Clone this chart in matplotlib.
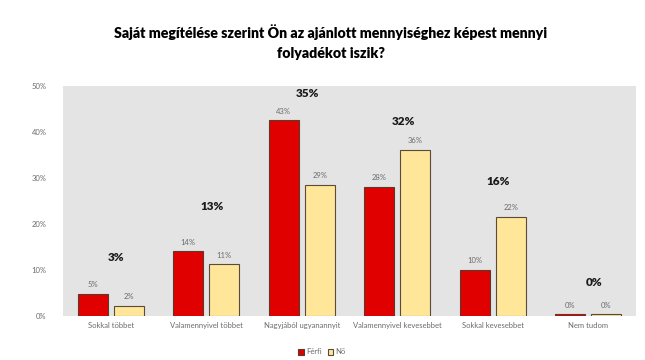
import matplotlib.pyplot as plt
import numpy as np

plt.rcParams['font.family'] = ['Lato', 'DejaVu Sans']

categories = ['Sokkal többet', 'Valamennyivel többet', 'Nagyjából ugyanannyit',
              'Valamennyivel kevesebbet', 'Sokkal kevesebbet', 'Nem tudom']
ferfi = [4.8, 14.1, 42.6, 28.1, 10.0, 0.4]
no = [2.2, 11.3, 28.5, 36.1, 21.6, 0.4]
ferfi_labels = ['5%', '14%', '43%', '28%', '10%', '0%']
no_labels = ['2%', '11%', '29%', '36%', '22%', '0%']
total_labels = ['3%', '13%', '35%', '32%', '16%', '0%']
# vertical position of the bold total labels (in axis units)
total_y = [12.8, 23.9, 48.3, 42.3, 29.3, 7.2]
yticks = [0, 10, 20, 30, 40, 50]

fig = plt.figure(figsize=(6.45, 3.6), dpi=100)
ax = fig.add_axes([63/645, 1-316/360, 573/645, 230/360])
ax.set_facecolor('#e4e4e4')

x = np.arange(len(categories))
w = 0.314
gap = 0.066
ax.bar(x - (w+gap)/2, ferfi, w, color='#e00000', edgecolor='#5a3a2a', linewidth=0.8, label='Férfi')
ax.bar(x + (w+gap)/2, no, w, color='#ffe699', edgecolor='#5a4a3a', linewidth=0.8, label='Nő')

for i in range(len(categories)):
    ax.text(x[i] - (w+gap)/2, ferfi[i] + 1.2, ferfi_labels[i], ha='center', va='bottom',
            fontsize=5.5, color='#6b6b6b')
    ax.text(x[i] + (w+gap)/2, no[i] + 1.2, no_labels[i], ha='center', va='bottom',
            fontsize=5.5, color='#6b6b6b')
    ax.text(x[i] + 0.06, total_y[i], total_labels[i], ha='center', va='center',
            fontsize=8.5, fontweight='heavy', color='#1a1a1a')

ax.set_xlim(-0.5, len(categories) - 0.5)
ax.set_ylim(0, 50)
ax.set_yticks(yticks)
ax.set_yticklabels([f'{v}%' for v in yticks])
ax.set_xticks(x)
ax.set_xticklabels(categories)
ax.tick_params(axis='both', length=0, labelsize=5.5, colors='#6b6b6b')
ax.tick_params(axis='y', pad=12)
ax.tick_params(axis='x', pad=4)
for s in ax.spines.values():
    s.set_visible(False)

fig.text(331/645, 1-32/360, 'Saját megítélése szerint Ön az ajánlott mennyiséghez képest mennyi',
         ha='center', va='center', fontsize=10.2, fontweight='heavy', color='black')
fig.text(331/645, 1-54/360, 'folyadékot iszik?', ha='center', va='center',
         fontsize=10.2, fontweight='heavy', color='black')

fig.legend(loc='center', bbox_to_anchor=(322/645, 1-352/360), ncol=2, frameon=False,
           fontsize=5.5, handlelength=0.7, handleheight=0.7, handletextpad=0.3,
           columnspacing=0.8, labelcolor='#6b6b6b')

fig.savefig('out.png', dpi=100)
